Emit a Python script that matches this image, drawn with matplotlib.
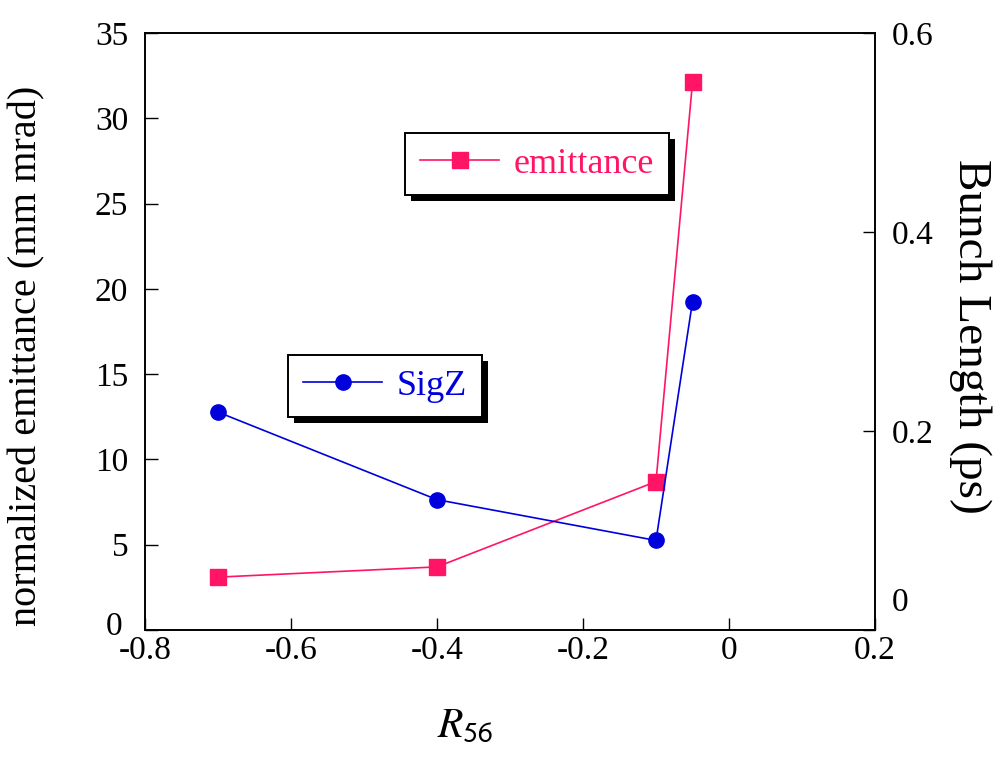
import numpy as np
import matplotlib
matplotlib.use('Agg')
import matplotlib.pyplot as plt
from matplotlib.lines import Line2D
from matplotlib.patches import Rectangle
from matplotlib.transforms import ScaledTranslation, IdentityTransform

plt.rcParams['font.family'] = ['Liberation Serif', 'DejaVu Serif']
plt.rcParams['mathtext.fontset'] = 'stix'

# data
r56 = [-0.7, -0.4, -0.1, -0.05]
emittance = [3.1, 3.7, 8.7, 32.1]
sigz = [0.219, 0.131, 0.090, 0.330]

pink = '#ff1466'
blue = '#0000dd'

fig = plt.figure(figsize=(9.94, 7.57), dpi=100)
ax = fig.add_axes([145/994, 1-630/757, 730/994, 597/757])
ax2 = ax.twinx()

ax.plot(r56, emittance, color=pink, lw=1.2, marker='s', ms=11, mec=pink, mfc=pink)
ax2.plot(r56, sigz, color=blue, lw=1.2, marker='o', ms=11, mec=blue, mfc=blue)

ax.set_xlim(-0.8, 0.2)
ax.set_ylim(0, 35)
ax2.set_ylim(0, 0.6)
ax.set_xticks([-0.8, -0.6, -0.4, -0.2, 0, 0.2])
ax.set_xticklabels(['-0.8', '-0.6', '-0.4', '-0.2', '0', '0.2'])
ax.set_yticks(np.arange(0, 36, 5))
ax2.set_yticks([0, 0.2, 0.4, 0.6])
ax2.set_yticklabels(['0', '0.2', '0.4', '0.6'])

ax.tick_params(axis='x', direction='in', length=9, width=1, labelsize=24, pad=4)
ax.tick_params(axis='y', direction='in', length=9, width=1, labelsize=24, pad=12)
ax2.tick_params(axis='y', direction='in', length=9, width=1, labelsize=24, pad=12)
for a in (ax, ax2):
    for s in a.spines.values():
        s.set_linewidth(1.2)

# nudge the two "0" labels at the corners like the reference
lab0 = ax.get_yticklabels()[0]
lab0.set_transform(lab0.get_transform() + ScaledTranslation(-4/72, 5/72, fig.dpi_scale_trans))
rlab0 = ax2.get_yticklabels()[0]
rlab0.set_transform(rlab0.get_transform() + ScaledTranslation(0, 22/72, fig.dpi_scale_trans))

ax.set_xlabel(r'$R_{\mathsf{56}}$', fontsize=30)
ax.xaxis.set_label_coords((465-145)/730, -0.13)
ax.set_ylabel('normalized emittance (mm mrad)', fontsize=29)
ax.yaxis.set_label_coords(-0.137, 0.46)
ax2.set_ylabel('Bunch Length (ps)', fontsize=34, rotation=-90, va='center')
ax2.yaxis.set_label_coords((970-145)/730, (630-336)/597)

h1 = Line2D([], [], color=pink, lw=1.2, marker='s', ms=11)
leg1 = ax2.legend([h1], ['emittance'], loc='center', bbox_to_anchor=(537/994, 1-164/757),
                  bbox_transform=fig.transFigure, fontsize=26, frameon=True, fancybox=False,
                  edgecolor='black', framealpha=1, borderpad=0.4,
                  handlelength=2.2, handletextpad=0.4, labelcolor=pink)
leg1.get_frame().set_linewidth(1.4)
ax2.add_artist(leg1)
h2 = Line2D([], [], color=blue, lw=1.2, marker='o', ms=11)
leg2 = ax2.legend([h2], ['SigZ'], loc='center', bbox_to_anchor=(385/994, 1-386/757),
                  bbox_transform=fig.transFigure, fontsize=26, frameon=True, fancybox=False,
                  edgecolor='black', framealpha=1, borderpad=0.4,
                  handlelength=2.2, handletextpad=0.4, labelcolor=blue)
leg2.get_frame().set_linewidth(1.4)

# solid black drop shadows behind the legend boxes
fig.canvas.draw()
for leg in (leg1, leg2):
    bb = leg.get_frame().get_window_extent()
    sh = Rectangle((bb.x0 + 6, bb.y0 - 6), bb.width, bb.height, transform=IdentityTransform(),
                   facecolor='black', edgecolor='none', zorder=leg.get_zorder() - 0.1)
    ax2.add_artist(sh)

fig.savefig('out.png', dpi=100)
